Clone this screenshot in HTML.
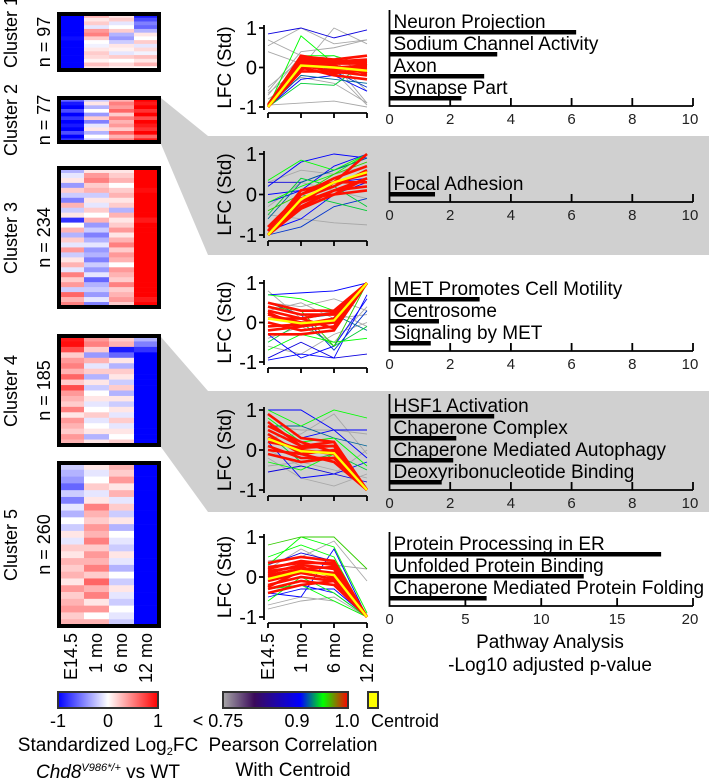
<!DOCTYPE html>
<html><head><meta charset="utf-8"><style>
body{margin:0;background:#fff;width:709px;height:782px;overflow:hidden}
svg{display:block;font-family:"Liberation Sans",Arial,sans-serif}
</style></head><body>
<svg id="fig" width="709" height="782" viewBox="0 0 709 782" xmlns="http://www.w3.org/2000/svg">
<g id="bands">
<polygon points="161,98 208,136 709,136 709,255 208,255 161,144" fill="#d0d0d0"/>
<polygon points="161,337 208,391 709,391 709,512 208,512 161,447" fill="#d0d0d0"/>
</g>
<g id="heat"></g><g id="lines"></g><g id="bars"></g>
<g font-size="18" fill="#000">
<text transform="translate(77,633) rotate(-90)" text-anchor="end">E14.5</text>
<text transform="translate(102,633) rotate(-90)" text-anchor="end">1 mo</text>
<text transform="translate(127,633) rotate(-90)" text-anchor="end">6 mo</text>
<text transform="translate(152,633) rotate(-90)" text-anchor="end">12 mo</text>
</g>
<g font-size="18" fill="#000">
<text transform="translate(274,633) rotate(-90)" text-anchor="end">E14.5</text>
<text transform="translate(307,633) rotate(-90)" text-anchor="end">1 mo</text>
<text transform="translate(340,633) rotate(-90)" text-anchor="end">6 mo</text>
<text transform="translate(373,633) rotate(-90)" text-anchor="end">12 mo</text>
</g>
<defs>
<linearGradient id="gDiv" x1="0" x2="1"><stop offset="0" stop-color="#0000ff"/><stop offset="0.5" stop-color="#ffffff"/><stop offset="1" stop-color="#ff0000"/></linearGradient>
<linearGradient id="gCor" x1="0" x2="1"><stop offset="0" stop-color="#a8a8a8"/><stop offset="0.25" stop-color="#3a0a5a"/><stop offset="0.62" stop-color="#0000ff"/><stop offset="0.8" stop-color="#00ff00"/><stop offset="1" stop-color="#ff0000"/></linearGradient>
</defs>
<g>
<rect x="58" y="692" width="100" height="16" fill="url(#gDiv)" stroke="#333" stroke-width="2"/>
<text x="58" y="727" font-size="18" text-anchor="middle">-1</text>
<text x="108" y="727" font-size="18" text-anchor="middle">0</text>
<text x="158" y="727" font-size="18" text-anchor="middle">1</text>
<text x="108" y="751" font-size="19" text-anchor="middle">Standardized Log<tspan font-size="11" dy="4">2</tspan><tspan dy="-4">FC</tspan></text>
<text x="108" y="778" font-size="19" text-anchor="middle"><tspan font-style="italic">Chd8</tspan><tspan font-style="italic" font-size="11" dy="-7">V986*/+</tspan><tspan dy="7"> vs WT</tspan></text>
</g>
<g>
<rect x="223" y="692" width="125" height="16" fill="url(#gCor)" stroke="#333" stroke-width="2"/>
<text x="218" y="727" font-size="18" text-anchor="middle">&lt; 0.75</text>
<text x="297" y="727" font-size="18" text-anchor="middle">0.9</text>
<text x="347" y="727" font-size="18" text-anchor="middle">1.0</text>
<text x="293" y="751" font-size="19" text-anchor="middle">Pearson Correlation</text>
<text x="293" y="776" font-size="19" text-anchor="middle">With Centroid</text>
<rect x="368" y="692" width="10" height="16" fill="#ffff00" stroke="#333" stroke-width="2"/>
<text x="371" y="727" font-size="18">Centroid</text>
</g>
<g font-size="19" text-anchor="middle">
<text x="550" y="648">Pathway Analysis</text>
<text x="550" y="671">-Log10 adjusted p-value</text>
</g>
</svg>
<script>
const NS='http://www.w3.org/2000/svg';
// ===== Heatmap data =====
const hmNames=['Cluster 1','Cluster 2','Cluster 3','Cluster 4','Cluster 5'];
const hmCounts=[97,77,234,185,260];
const hm1=[[-1,0.3,0.1,-0.9],[-1,0.1,0.2,-0.7],[-1,0.2,-0.1,-0.5],[-1,-0.1,0.0,-0.6],[-1,0.4,0.2,-0.3],[-1,0.5,-0.3,0.1],[-0.95,0.2,-0.4,0.0],[-1,0.0,-0.2,0.2],[-1,-0.05,0.1,-0.1],[-1,0.1,0.05,0.15],[-1,0.2,-0.1,-0.05],[-1,0.15,0.2,0.25],[-1,0.05,0.0,0.1],[-1,0.25,0.15,0.3],[-1,0.1,0.05,0.0]];
const hm2=[[-0.6,-0.2,0.3,1],[-0.9,0.1,0.5,0.9],[-1,-0.3,0.4,1],[-0.7,0.0,0.6,0.8],[-1,-0.4,0.2,1],[-0.8,0.2,0.5,0.7],[-1,-0.5,0.3,1],[-0.9,-0.1,0.4,0.9],[-1,0.1,0.2,0.8],[-0.7,-0.3,0.6,1],[-1,0.0,0.3,0.6],[-0.8,-0.2,0.5,0.9]];
const hm3=[[-0.3,0.1,0.1,1],[-0.1,0.4,0.2,1],[0.1,0.5,0.3,1],[-0.4,0.2,0.0,1],[0.2,0.3,0.2,0.95],[-0.2,-0.2,0.3,1],[-0.5,0.1,0.1,1],[0.3,-0.1,0.2,1],[-0.2,0.2,-0.3,1],[0.1,0.0,0.3,1],[-0.8,0.3,0.1,0.9],[0.0,-0.4,0.2,1],[0.3,-0.2,0.4,1],[-0.3,-0.5,0.1,1],[0.2,-0.3,0.3,1],[-0.1,-0.1,0.5,1],[0.4,-0.4,0.2,1],[-0.2,-0.3,0.4,1],[0.1,-0.5,0.3,1],[0.3,-0.2,0.0,1],[-0.1,-0.4,0.4,1],[0.5,-0.1,0.3,1],[0.2,-0.6,0.2,1],[0.4,-0.3,0.5,1],[-0.2,-0.2,0.2,1],[0.6,-0.4,0.3,1],[0.3,-0.1,0.4,0.9],[0.5,-0.5,0.2,1]];
const hm4=[[0.9,0.4,0.2,-0.3],[0.95,0.5,0.3,-0.5],[0.7,0.2,-0.9,-0.8],[0.2,-0.4,-0.6,-1],[0.4,0.3,0.1,-1],[0.5,-0.1,-0.3,-1],[0.3,0.2,0.2,-1],[0.6,-0.3,0.1,-1],[0.2,0.1,-0.2,-1],[0.7,-0.2,0.2,-1],[0.4,0.0,-0.3,-1],[0.3,0.1,0.1,-1],[0.2,-0.1,-0.2,-1],[0.5,0.0,0.1,-1],[0.1,0.2,-0.1,-1],[0.4,-0.1,0.2,-1],[0.3,0.0,-0.1,-1],[0.2,0.1,0.1,-1],[0.4,-0.3,0.0,-1],[0.3,0.1,0.2,-1]];
const hm5=[[-0.2,0.1,0.3,-1],[-0.3,-0.1,0.2,-1],[-0.4,0.0,0.4,-1],[-0.6,0.2,0.1,-1],[-0.2,-0.1,0.3,-1],[-0.5,0.1,-0.1,-1],[-0.1,0.5,0.2,-1],[-0.3,0.3,-0.2,-1],[0.0,0.2,0.1,-1],[-0.2,0.4,-0.3,-1],[0.1,0.3,0.0,-1],[-0.1,0.5,-0.1,-1],[0.2,0.2,-0.2,-1],[0.1,0.4,0.1,-1],[0.3,0.3,-0.1,-1],[0.2,0.5,-0.3,-1],[0.3,0.2,0.0,-1],[0.1,0.6,-0.2,-1],[0.4,0.3,0.1,-1],[0.2,0.5,-0.1,-1],[0.3,0.1,-0.2,-1],[0.4,0.4,0.0,-1],[0.2,0.0,-0.1,-1],[0.3,0.3,-0.2,-1]];
const hmData=[hm1,hm2,hm3,hm4,hm5];
const hmTops=[12,96,166,334,461], hmBottoms=[72,144,309,447,628];
const hmLabelY=[32,120,238,391,545];
function divColor(v){v=Math.max(-1,Math.min(1,v));let r,g,b;if(v<0){r=g=Math.round(255*(1+v));b=255;}else{r=255;g=b=Math.round(255*(1-v));}return `rgb(${r},${g},${b})`;}
const heat=document.getElementById('heat');
hmData.forEach((rows,ci)=>{
  const g=document.createElementNS(NS,'g');
  
  
  const x0=59,x1=159,y0=hmTops[ci]+2,y1=hmBottoms[ci]-2,rh=(y1-y0)/rows.length,cw=(x1-x0)/4;
  rows.forEach((row,ri)=>row.forEach((v,k)=>{const r=document.createElementNS(NS,'rect');r.setAttribute('x',x0+k*cw);r.setAttribute('y',y0+ri*rh);r.setAttribute('width',cw+0.3);r.setAttribute('height',rh+0.3);r.setAttribute('fill',divColor(v));
    
    
    g.appendChild(r);}));
  const b=document.createElementNS(NS,'rect');b.setAttribute('x',x0);b.setAttribute('y',y0);b.setAttribute('width',x1-x0);b.setAttribute('height',y1-y0);b.setAttribute('fill','none');b.setAttribute('stroke','#000');b.setAttribute('stroke-width','4');g.appendChild(b);
  const cy=hmLabelY[ci];
  const t1=document.createElementNS(NS,'text');t1.setAttribute('transform',`translate(17,${cy}) rotate(-90)`);t1.setAttribute('text-anchor','middle');t1.setAttribute('font-size','18');t1.textContent=hmNames[ci];
  
  
  g.appendChild(t1);
  const t2=document.createElementNS(NS,'text');t2.setAttribute('transform',`translate(50,${(hmTops[ci]+hmBottoms[ci])/2}) rotate(-90)`);t2.setAttribute('text-anchor','middle');t2.setAttribute('font-size','18');t2.textContent='n = '+hmCounts[ci];
  
  
  g.appendChild(t2);
  heat.appendChild(g);
});
// ===== Line chart data: each line [E14.5, 1mo, 6mo, 12mo, correlation] =====
const lc1=[[-0.7,0.3,-0.1,-0.95,.5],[-0.95,-0.9,-0.85,-1,.3],[0.55,1.0,0.6,0.7,.6],[-0.65,0.0,1.0,0.6,.4],[0.7,0.3,0.1,-0.9,.2],[-0.5,0.2,0.3,-0.2,.6],[-0.8,-0.25,-0.4,-0.9,.7],[0.4,0.1,0.2,-0.6,.5],[-0.6,0.4,0.5,0.7,.55],
[-1,-0.3,-0.2,-0.6,.9],[0.85,1,0.75,0.95,.88],[-0.95,0.2,-0.1,-0.5,.91],[-1,-0.2,-0.3,-0.4,.92],
[-1,0.8,0.1,0.2,.95],[-1,-0.4,-0.45,0.15,.94],[-0.9,0.3,0.3,0.05,.95],
[-1,0.25,0.1,0.1,.99],[-1,0.2,-0.05,0.0,.99],[-1,-0.1,-0.1,-0.2,.98],[-1,0.3,0.15,0.2,.99],[-1,0.1,0.05,-0.15,.99],[-1,-0.05,0.2,0.05,.98],[-1,0.15,-0.15,-0.05,.99],[-0.95,0.28,0.2,0.3,.97],[-1,0.0,-0.2,-0.3,.98],[-1,0.2,0.1,0.15,.99],[-1,0.05,-0.1,-0.1,.99],[-1,0.25,0.0,0.05,.99]];
const lc1c=[-1,0.05,0.0,-0.08];
const lc2=[[-0.5,-0.6,-0.7,-0.75,.6],[0.3,0.6,0.5,0.7,.5],[-0.3,0.3,0.1,-0.1,.6],
[0.2,0.8,1.0,0.9,.9],[-0.2,0.1,0.7,1,.9],[-1,-0.8,-0.3,-0.1,.91],[0.0,0.1,0.3,0.4,.9],[-0.6,0.3,0.6,0.9,.92],[-0.9,-0.6,0.0,0.3,.9],[0.3,0.3,0.6,0.9,.88],
[0.35,0.85,0.6,1,.95],[-0.5,0.4,0.2,-0.3,.94],[-0.2,0.2,0.5,1,.95],[-0.4,0.0,0.5,0.8,.96],[-1,0.0,-0.2,-0.4,.94],
[-1,-0.2,0.1,0.4,.98],[-1,-0.1,0.2,0.6,.99],[-1,0.0,0.3,0.3,.98],[-1,-0.3,0.1,0.2,.99],[-0.8,0.0,0.4,0.7,.98],[-1,-0.2,0.3,0.5,.99],[-1,-0.35,0.0,0.1,.97],[-0.9,0.1,0.3,1,.98],[-1,-0.1,0.0,0.4,.99]];
const lc2c=[-1,-0.12,0.3,0.55];
const lc3=[[0.8,0.1,0.3,-0.1,.5],[-0.4,-0.1,-0.5,0.4,.6],[0.3,0.5,0.1,0.2,.55],[-0.6,-0.8,-0.3,0.0,.6],[0.5,0.4,0.6,0.3,.5],
[0.7,0.75,0.8,1,.9],[-0.9,-0.5,-0.9,-0.8,.88],[-0.95,-0.8,-0.9,0.7,.9],[0.5,0.2,-0.7,0.3,.91],[-0.3,-0.9,-0.6,0.6,.9],[0.3,0.1,0.2,-0.2,.92],
[0.7,0.6,0.3,1,.95],[-0.7,-0.3,-0.5,-0.4,.95],[0.4,0.3,-0.6,1,.96],[-0.5,0.0,-0.6,-0.1,.94],
[0.2,0.0,0.0,1,.99],[-0.2,-0.1,0.1,1,.98],[0.4,0.2,0.2,1,.99],[0.0,-0.2,-0.1,1,.99],[0.3,0.1,0.25,1,.98],[-0.3,-0.3,-0.2,1,.97],[0.5,0.3,0.3,1,.98],[0.1,0.1,-0.15,1,.99],[-0.1,-0.05,0.1,1,.99],[0.25,-0.1,0.0,1,.99]];
const lc3c=[0.1,-0.02,0.05,1];
const lc4=[[-0.4,-0.3,-0.5,-0.7,.5],[0.6,0.5,0.5,0.4,.55],[-0.2,-0.7,-0.9,-0.6,.5],[0.0,-0.4,-0.6,0.0,.6],[0.3,0.4,0.9,-0.1,.6],
[1,1,0.5,-0.2,.9],[-0.55,-0.4,-0.6,-0.8,.88],[0.9,0.3,0.5,0.5,.9],[0.2,-0.7,-0.6,-0.3,.9],[0.6,0.6,0.3,0.1,.92],
[1,0.6,1,0.8,.95],[0.4,-0.3,-0.1,-0.5,.94],[-0.3,-0.5,-0.1,-1,.95],[0.8,0.2,0.3,-0.4,.95],
[0.9,0.3,0.2,-1,.97],[0.5,0.1,0.1,-1,.98],[0.3,0.0,-0.1,-1,.99],[0.1,-0.2,-0.2,-1,.99],[0.4,-0.1,0.0,-1,.98],[-0.1,-0.3,-0.2,-1,.98],[0.6,0.2,-0.05,-1,.99],[0.2,0.05,0.1,-1,.99],[0.0,-0.1,-0.3,-1,.99],[0.7,0.1,0.2,-1,.98]];
const lc4c=[0.28,-0.03,-0.08,-1];
const lc5=[[-0.8,-0.6,-0.5,-1,.5],[0.4,0.5,0.9,-0.1,.6],[-0.7,-0.5,-0.6,-1,.6],[0.2,0.7,0.3,0.2,.5],
[-0.5,-0.3,-0.3,-1,.9],[-0.4,-0.5,0.7,-1,.9],[0.3,0.6,0.4,-1,.88],[-0.3,-0.2,-0.4,-1,.9],
[0.8,1,1,0.2,.96],[-0.6,0.0,-0.4,-1,.95],[0.3,1,0.75,-0.9,.95],[-0.3,-0.2,-0.6,-1,.95],[0.5,0.8,0.5,-1,.95],
[0.0,0.2,0.1,-1,.99],[0.2,0.4,0.3,-1,.99],[-0.2,0.0,-0.1,-1,.98],[0.1,0.3,0.2,-1,.99],[-0.3,-0.1,-0.2,-1,.98],[0.35,0.5,0.4,-1,.98],[-0.1,0.1,-0.05,-1,.99],[0.15,0.25,0.0,-1,.99],[-0.25,0.15,0.1,-1,.99],[0.25,0.35,0.35,-1,.99],[-0.4,-0.2,-0.1,-1,.97],[0.05,0.2,0.25,-1,.99]];
const lc5c=[-0.05,0.15,0.05,-1];
const lcLines=[lc1,lc2,lc3,lc4,lc5], lcCent=[lc1c,lc2c,lc3c,lc4c,lc5c];
const lcTop=[28,154,283,410,537], lcBot=[107,235,362,490,617];
const xTicks=[268,301,334,367];
function corColor(r){const st=[[0.75,[168,168,168]],[0.8,[58,10,90]],[0.9,[0,0,255]],[0.95,[0,255,0]],[1.0,[255,0,0]]];
  if(r<=0.75)return 'rgb(168,168,168)';for(let i=1;i<st.length;i++){if(r<=st[i][0]){const t=(r-st[i-1][0])/(st[i][0]-st[i-1][0]);const c=st[i-1][1].map((a,k)=>Math.round(a+(st[i][1][k]-a)*t));return `rgb(${c})`;}}return 'rgb(255,0,0)';}
const linesG=document.getElementById('lines');
lcLines.forEach((ls,ci)=>{
  const g=document.createElementNS(NS,'g');
  
  
  const yS=v=>lcTop[ci]+(1-v)/2*(lcBot[ci]-lcTop[ci]);
  const sorted=ls.slice().sort((a,b)=>a[4]-b[4]);
  sorted.forEach(l=>{const p=document.createElementNS(NS,'polyline');p.setAttribute('points',l.slice(0,4).map((v,k)=>xTicks[k]+','+yS(v)).join(' '));p.setAttribute('fill','none');p.setAttribute('stroke',l[4]>=0.97?'#ff1000':corColor(l[4]));p.setAttribute('stroke-width',l[4]>=0.97?'2.6':'0.9');
    
    
    g.appendChild(p);});
  const c=document.createElementNS(NS,'polyline');c.setAttribute('points',lcCent[ci].map((v,k)=>xTicks[k]+','+yS(v)).join(' '));c.setAttribute('fill','none');c.setAttribute('stroke','#ffff00');c.setAttribute('stroke-width','2.4');
  
  
  g.appendChild(c);
  const ax=document.createElementNS(NS,'path');const yb=lcBot[ci]+6;
  let d=`M264,${lcTop[ci]-3}V${lcBot[ci]+3}M264,${lcTop[ci]}H259M264,${yS(0)}H259M264,${lcBot[ci]}H259M268,${yb}H367`;xTicks.forEach(x=>d+=`M${x},${yb}V${yb+5}`);
  ax.setAttribute('d',d);ax.setAttribute('stroke','#000');ax.setAttribute('stroke-width','1.8');ax.setAttribute('fill','none');
  
  
  g.appendChild(ax);
  [[1,'1'],[0,'0'],[-1,'-1']].forEach(([v,s])=>{const t=document.createElementNS(NS,'text');t.setAttribute('x',257);t.setAttribute('y',yS(v)+7);t.setAttribute('text-anchor','end');t.setAttribute('font-size','20');t.textContent=s;
    
    
    g.appendChild(t);});
  const yl=document.createElementNS(NS,'text');yl.setAttribute('transform',`translate(231,${(lcTop[ci]+lcBot[ci])/2}) rotate(-90)`);yl.setAttribute('text-anchor','middle');yl.setAttribute('font-size','19');yl.textContent='LFC (Std)';
  
  
  g.appendChild(yl);
  linesG.appendChild(g);
});
// ===== Pathway bar data =====
const pw1=['Neuron Projection','Sodium Channel Activity','Axon','Synapse Part'], pv1=[6.15,3.55,3.12,2.37];
const pw2=['Focal Adhesion'], pv2=[1.5];
const pw3=['MET Promotes Cell Motility','Centrosome','Signaling by MET'], pv3=[2.97,1.63,1.36];
const pw4=['HSF1 Activation','Chaperone Complex','Chaperone Mediated Autophagy','Deoxyribonucleotide Binding'], pv4=[3.45,2.2,2.1,1.72];
const pw5=['Protein Processing in ER','Unfolded Protein Binding','Chaperone Mediated Protein Folding'], pv5=[17.9,12.8,6.4];
const pwMax=[10,10,10,10,20];
const pwTicks=[[0,2,4,6,8,10],[0,2,4,6,8,10],[0,2,4,6,8,10],[0,2,4,6,8,10],[0,5,10,15,20]];
const pwNames=[pw1,pw2,pw3,pw4,pw5], pwVals=[pv1,pv2,pv3,pv4,pv5];
const pwAxisY=[106,202,351,490,606];
const barsG=document.getElementById('bars');
pwNames.forEach((names,ci)=>{
  const g=document.createElementNS(NS,'g');
  
  
  const x0=389.5,x1=693,xS=v=>x0+v/pwMax[ci]*(x1-x0),ay=pwAxisY[ci],n=names.length;
  const firstBar=ay-8-(n-1)*22;
  names.forEach((nm,i)=>{const by=firstBar+i*22;
    const r=document.createElementNS(NS,'rect');r.setAttribute('x',x0);r.setAttribute('y',by-2);r.setAttribute('width',xS(pwVals[ci][i])-x0);r.setAttribute('height',4.5);r.setAttribute('fill','#000');
    
    
    g.appendChild(r);
    const t=document.createElementNS(NS,'text');t.setAttribute('x',x0+4);t.setAttribute('y',by-4);t.setAttribute('font-size','19');t.textContent=nm;
    
    
    g.appendChild(t);});
  const ax=document.createElementNS(NS,'path');let d=`M${x0},${firstBar-22}V${ay}H${x1}`;
  pwTicks[ci].forEach(v=>d+=`M${xS(v)},${ay}V${ay-8}`);
  ax.setAttribute('d',d);ax.setAttribute('stroke','#000');ax.setAttribute('stroke-width','1.8');ax.setAttribute('fill','none');
  
  
  g.appendChild(ax);
  pwTicks[ci].forEach(v=>{const t=document.createElementNS(NS,'text');t.setAttribute('x',xS(v)-(v===pwMax[ci]?3:0));t.setAttribute('y',ay+18);t.setAttribute('text-anchor','middle');t.setAttribute('font-size','15');t.setAttribute('fill','#222');t.textContent=v;
    
    
    g.appendChild(t);});
  barsG.appendChild(g);
});
</script>
</body></html>
